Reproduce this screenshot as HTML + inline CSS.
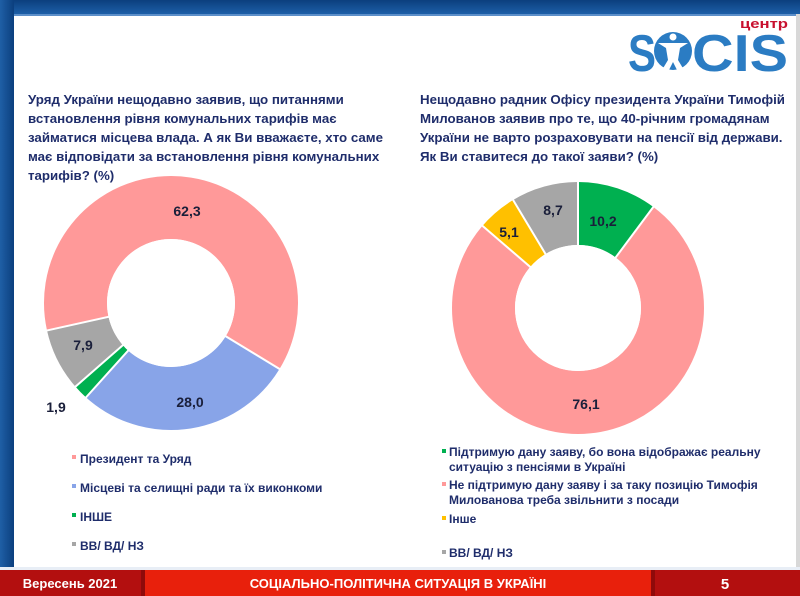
<!DOCTYPE html>
<html><head><meta charset="utf-8"><style>
html,body{margin:0;padding:0;background:#fff}
svg{display:block}
text{font-family:"Liberation Sans","DejaVu Sans",sans-serif;font-weight:bold}
</style></head><body>
<svg width="800" height="596" viewBox="0 0 800 596" xmlns="http://www.w3.org/2000/svg">
<defs>
<linearGradient id="top" x1="0" y1="0" x2="0" y2="1"><stop offset="0" stop-color="#0b3f7e"/><stop offset="1" stop-color="#1d5fa8"/></linearGradient>
<linearGradient id="left" x1="0" y1="0" x2="1" y2="0"><stop offset="0" stop-color="#1f5fa6"/><stop offset="1" stop-color="#0b3f7e"/></linearGradient>
</defs>
<rect x="0" y="0" width="800" height="596" fill="#fff"/>
<rect x="0" y="0" width="800" height="14" fill="url(#top)"/>
<rect x="0" y="0" width="14" height="570" fill="url(#left)"/>
<rect x="14" y="14" width="786" height="2" fill="#5c8fc9"/>
<rect x="796" y="14" width="4" height="556" fill="#d8d8d8"/>

<!-- logo -->
<text x="740" y="28" font-size="13" fill="#c8102e" textLength="48" lengthAdjust="spacingAndGlyphs">центр</text>
<text x="628" y="71" font-size="52" fill="#2b7cc3" textLength="28" lengthAdjust="spacingAndGlyphs">S</text>
<circle cx="673" cy="51" r="19" fill="#2b7cc3"/>
<circle cx="673" cy="37" r="3.5" fill="#fff"/>
<path d="M658 43 L688 43 L680 48 L678 60 L684 70 L677 70 L673 62 L669 70 L662 70 L668 60 L666 48 Z" fill="#fff"/>
<text x="692" y="71" font-size="52" fill="#2b7cc3" textLength="96" lengthAdjust="spacingAndGlyphs">CIS</text>

<!-- titles -->
<g font-size="13.3" fill="#1f2d6b">
<text x="28" y="104">Уряд України нещодавно заявив, що питаннями</text>
<text x="28" y="123">встановлення рівня комунальних тарифів має</text>
<text x="28" y="142">займатися місцева влада. А як Ви вважаєте, хто саме</text>
<text x="28" y="161">має відповідати за встановлення рівня комунальних</text>
<text x="28" y="180">тарифів? (%)</text>
<text x="420" y="104">Нещодавно радник Офісу президента України Тимофій</text>
<text x="420" y="123">Милованов заявив про те, що 40-річним громадянам</text>
<text x="420" y="142">України не варто розраховувати на пенсії від держави.</text>
<text x="420" y="161">Як Ви ставитеся до такої заяви? (%)</text>
</g>

<!-- left donut -->
<g transform="rotate(167.5 171 303)" fill="none" stroke-width="63">
<circle cx="171" cy="303" r="95.5" pathLength="100" stroke="#ff9999" stroke-dasharray="62.3 37.7" stroke-dashoffset="0"/>
<circle cx="171" cy="303" r="95.5" pathLength="100" stroke="#88a4e8" stroke-dasharray="28 72" stroke-dashoffset="-62.3"/>
<circle cx="171" cy="303" r="95.5" pathLength="100" stroke="#00b050" stroke-dasharray="1.9 98.1" stroke-dashoffset="-90.3"/>
<circle cx="171" cy="303" r="95.5" pathLength="100" stroke="#a6a6a6" stroke-dasharray="7.9 92.1" stroke-dashoffset="-92.2"/>
</g>
<g stroke="#fff" stroke-width="2">
<line x1="171" y1="303" x2="171" y2="175" transform="rotate(121.3 171 303)"/>
<line x1="171" y1="303" x2="171" y2="175" transform="rotate(222 171 303)"/>
<line x1="171" y1="303" x2="171" y2="175" transform="rotate(228.8 171 303)"/>
<line x1="171" y1="303" x2="171" y2="175" transform="rotate(257.5 171 303)"/>
</g>
<circle cx="171" cy="303" r="64" fill="#fff"/>
<g font-size="14" fill="#1a1f3a" text-anchor="middle">
<text x="187" y="216">62,3</text>
<text x="190" y="407">28,0</text>
<text x="83" y="350">7,9</text>
<text x="56" y="412">1,9</text>
</g>

<!-- right donut -->
<g transform="rotate(-90 578 308)" fill="none" stroke-width="63">
<circle cx="578" cy="308" r="94.5" pathLength="100" stroke="#00b050" stroke-dasharray="10.2 89.8" stroke-dashoffset="0"/>
<circle cx="578" cy="308" r="94.5" pathLength="100" stroke="#ff9999" stroke-dasharray="76.1 23.9" stroke-dashoffset="-10.2"/>
<circle cx="578" cy="308" r="94.5" pathLength="100" stroke="#ffc000" stroke-dasharray="5.1 94.9" stroke-dashoffset="-86.3"/>
<circle cx="578" cy="308" r="94.5" pathLength="100" stroke="#a6a6a6" stroke-dasharray="8.6 91.4" stroke-dashoffset="-91.4"/>
</g>
<g stroke="#fff" stroke-width="2">
<line x1="578" y1="308" x2="578" y2="180"/>
<line x1="578" y1="308" x2="578" y2="180" transform="rotate(36.7 578 308)"/>
<line x1="578" y1="308" x2="578" y2="180" transform="rotate(310.7 578 308)"/>
<line x1="578" y1="308" x2="578" y2="180" transform="rotate(329 578 308)"/>
</g>
<circle cx="578" cy="308" r="63" fill="#fff"/>
<g font-size="14" fill="#1a1f3a" text-anchor="middle">
<text x="603" y="226">10,2</text>
<text x="553" y="215">8,7</text>
<text x="509" y="237">5,1</text>
<text x="586" y="409">76,1</text>
</g>

<!-- left legend -->
<g font-size="12" fill="#1f2d6b">
<rect x="72" y="455" width="4" height="4" fill="#ff9999"/><text x="80" y="463">Президент та Уряд</text>
<rect x="72" y="484" width="4" height="4" fill="#88a4e8"/><text x="80" y="492">Місцеві та селищні ради та їх виконкоми</text>
<rect x="72" y="513" width="4" height="4" fill="#00b050"/><text x="80" y="521">ІНШЕ</text>
<rect x="72" y="542" width="4" height="4" fill="#a6a6a6"/><text x="80" y="550">ВВ/ ВД/ НЗ</text>
</g>
<!-- right legend -->
<g font-size="12" fill="#1f2d6b">
<rect x="442" y="449" width="4" height="4" fill="#00b050"/><text x="449" y="456">Підтримую дану заяву, бо вона відображає реальну</text>
<text x="449" y="471">ситуацію з пенсіями в Україні</text>
<rect x="442" y="482" width="4" height="4" fill="#ff9999"/><text x="449" y="489">Не підтримую дану заяву і за таку позицію Тимофія</text>
<text x="449" y="504">Милованова треба звільнити з посади</text>
<rect x="442" y="516" width="4" height="4" fill="#ffc000"/><text x="449" y="523">Інше</text>
<rect x="442" y="550" width="4" height="4" fill="#a6a6a6"/><text x="449" y="557">ВВ/ ВД/ НЗ</text>
</g>

<!-- footer -->
<rect x="0" y="567" width="800" height="3" fill="#e8eef6"/>
<rect x="0" y="570" width="800" height="26" fill="#8f0a0a"/>
<rect x="0" y="570" width="141" height="26" fill="#b30f0f"/>
<rect x="145" y="570" width="506" height="26" fill="#e8200c"/>
<rect x="655" y="570" width="145" height="26" fill="#b30f0f"/>
<g font-size="13" fill="#fff" text-anchor="middle">
<text x="70" y="588">Вересень 2021</text>
<text x="398" y="588">СОЦІАЛЬНО-ПОЛІТИЧНА СИТУАЦІЯ В УКРАЇНІ</text>
<text x="725" y="589" font-size="15">5</text>
</g>
</svg>
</body></html>
